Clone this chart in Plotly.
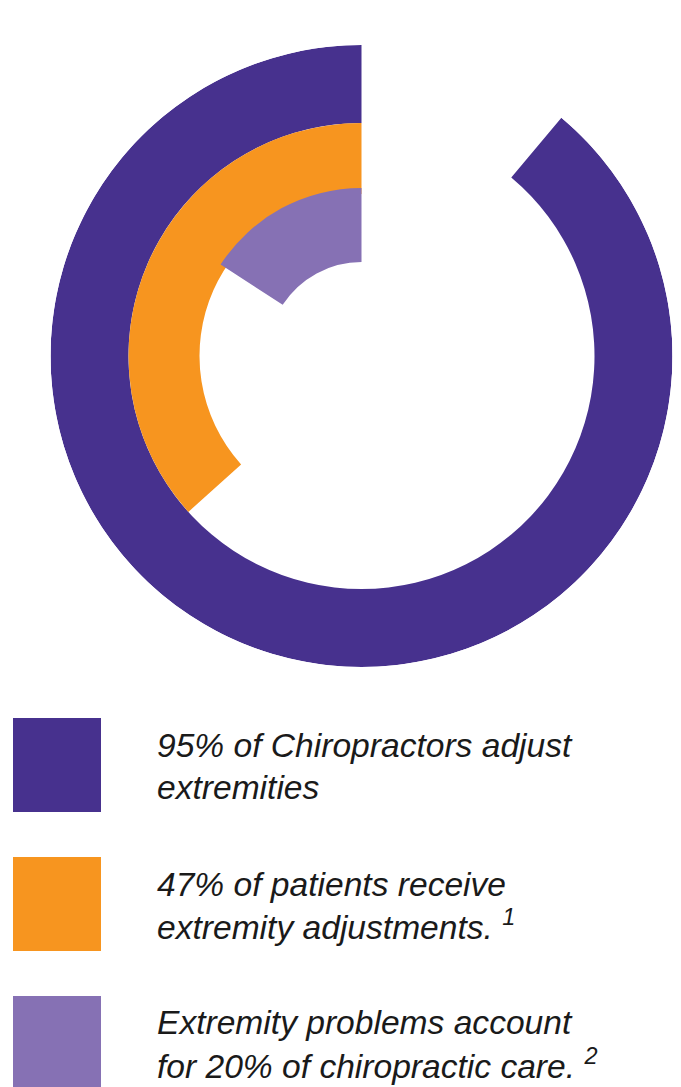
import plotly.graph_objects as go

# ---- data ----
labels = ["Chiropractors adjust extremities",
          "Patients receive extremity adjustments",
          "Extremity share of chiropractic care"]
percent = [95, 47, 20]
arc_degrees = [320, 132, 57]          # drawn sweep of each ring (counter-clockwise from 12 o'clock)
legend_lines = [
    ["95% of Chiropractors adjust", "extremities"],
    ["47% of patients receive", "extremity adjustments. <sup>1</sup>"],
    ["Extremity problems account", "for 20% of chiropractic care. <sup>2</sup>"],
]

# ---- styling / layout constants ----
colors = ["#47318E", "#F7951F", "#8671B4"]
ring_inner = [233, 162, 94]
ring_outer = [311, 233, 168]
W, H = 681, 1087
cx, cy, R = 361.5, 356, 311

fig = go.Figure()
for lab, deg, col, r0, r1 in zip(labels, arc_degrees, colors, ring_inner, ring_outer):
    fig.add_trace(go.Barpolar(
        r=[r1 - r0], base=[r0], theta=[deg / 2], width=[deg],
        marker=dict(color=col, line=dict(width=0)),
        name=lab, showlegend=False, hoverinfo="skip"))

fig.update_layout(
    width=W, height=H,
    margin=dict(l=0, r=0, t=0, b=0),
    paper_bgcolor="white", plot_bgcolor="white",
    polar=dict(
        domain=dict(x=[(cx - R) / W, (cx + R) / W],
                    y=[1 - (cy + R) / H, 1 - (cy - R) / H]),
        bgcolor="white", barmode="overlay",
        radialaxis=dict(visible=False, range=[0, R], showgrid=False),
        angularaxis=dict(visible=False, rotation=90, direction="counterclockwise",
                         showgrid=False),
    ),
)

def py(y):
    return 1 - y / H

sq_tops = [718, 857, 996]
sq_h = 94
baselines = [(756, 798), (895, 936), (1033, 1075)]
fs = 33.6
for i, col in enumerate(colors):
    fig.add_shape(type="rect", xref="paper", yref="paper",
                  x0=13 / W, x1=101 / W, y0=py(sq_tops[i] + sq_h), y1=py(sq_tops[i]),
                  fillcolor=col, line=dict(width=0), layer="above")
    for j, line in enumerate(legend_lines[i]):
        fig.add_annotation(xref="paper", yref="paper", x=155 / W,
                           y=py(baselines[i][j] - 11), xanchor="left", yanchor="middle",
                           text="<i>" + line + "</i>", showarrow=False,
                           font=dict(family="Liberation Sans", size=fs, color="#1a1a1a"))

fig.write_html("out.html",
               config={"displayModeBar": False, "staticPlot": True},
               post_script="document.body.style.margin='0';document.body.style.overflow='hidden';")
